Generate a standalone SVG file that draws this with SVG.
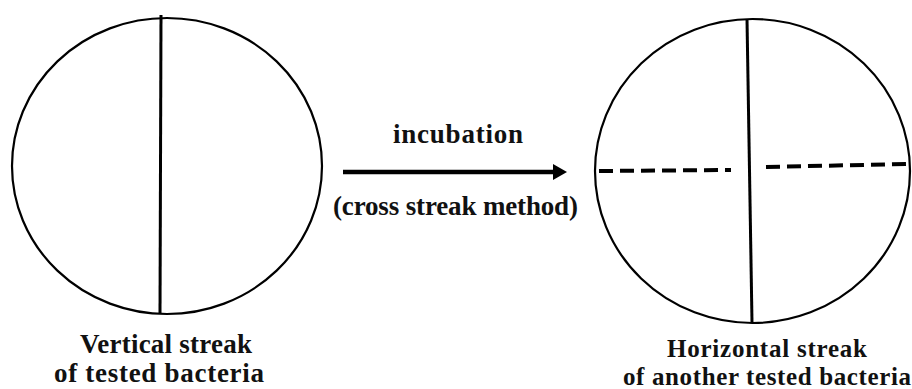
<svg xmlns="http://www.w3.org/2000/svg" width="912" height="389" viewBox="0 0 912 389">
<defs>
<style>
.plate{fill:none;stroke:#000;stroke-width:2.2}
.streak{stroke:#000;stroke-width:3;fill:none}
.dash{stroke:#000;stroke-width:4;fill:none;stroke-dasharray:14 7}
.lbl{font-weight:bold;font-size:27px;fill:#111;text-anchor:middle}
.sm{font-size:25px}
</style>
<marker id="ah" viewBox="0 0 14 16" refX="0" refY="8" markerWidth="14" markerHeight="16" markerUnits="userSpaceOnUse" orient="auto">
<path d="M0,0 L14,8 L0,16 Z" fill="#000"/>
</marker>
</defs>
<rect width="912" height="389" fill="#fff"/>
<g id="plate1">
<ellipse class="plate" cx="167" cy="166" rx="155" ry="148"/>
<line class="streak" x1="161" y1="15" x2="160" y2="314"/>
<text class="lbl" font-family="Liberation Serif, DejaVu Serif, serif" x="166" y="353" textLength="172">Vertical streak</text>
<text class="lbl" font-family="Liberation Serif, DejaVu Serif, serif" x="159" y="382" textLength="210">of tested bacteria</text>
</g>
<g id="plate2">
<ellipse class="plate" cx="752.5" cy="171" rx="157.5" ry="152"/>
<line class="streak" x1="747" y1="19" x2="752" y2="322"/>
<line class="dash" x1="599" y1="171" x2="731" y2="170"/>
<line class="dash" x1="766" y1="167" x2="908" y2="164"/>
<text class="lbl sm" font-family="Liberation Serif, DejaVu Serif, serif" x="767" y="357" textLength="200">Horizontal streak</text>
<text class="lbl sm" font-family="Liberation Serif, DejaVu Serif, serif" x="767" y="385" textLength="288">of another tested bacteria</text>
</g>
<g id="connectors">
<line x1="343" y1="172" x2="553" y2="172" stroke="#000" stroke-width="4.5" marker-end="url(#ah)"/>
<text class="lbl" font-family="Liberation Serif, DejaVu Serif, serif" x="458" y="143" textLength="130">incubation</text>
<text class="lbl" font-family="Liberation Serif, DejaVu Serif, serif" x="455.5" y="215" textLength="245">(cross streak method)</text>
</g>
</svg>
